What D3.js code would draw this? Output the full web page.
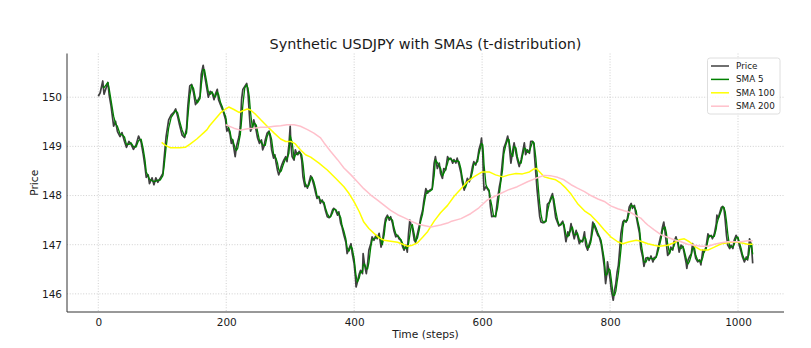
<!DOCTYPE html>
<html>
<head>
<meta charset="utf-8">
<script src="https://cdn.jsdelivr.net/npm/d3@7"></script>
<style>
  html, body { margin: 0; padding: 0; background: #fff; }
  svg { display: block; font-family: "DejaVu Sans", sans-serif; }
</style>
</head>
<body>
<svg id="chart" width="811" height="348"></svg>
<script>
// Synthetic USDJPY price path, [step, price]
const pricePoints = [
  [0,150.02],[3,150.09],[7,150.33],[9,150.06],[15,150.30],[17,150.05],[20,149.82],[24,149.41],[27,149.51],[30,149.30],
  [34,149.20],[37,149.28],[41,149.10],[44,148.98],[48,149.10],[51,149.05],[55,148.94],[59,149.03],[63,149.21],[67,149.08],
  [70,148.86],[73,148.59],[75,148.37],[78,148.42],[80,148.24],[84,148.36],[87,148.22],[90,148.36],[93,148.27],[97,148.36],
  [101,148.45],[103,148.76],[106,149.20],[110,149.54],[114,149.64],[118,149.69],[121,149.76],[124,149.61],[127,149.44],[131,149.23],
  [135,149.18],[138,149.37],[140,149.82],[143,150.23],[146,150.26],[149,150.09],[152,149.85],[155,149.92],[159,150.02],[161,150.47],
  [164,150.65],[166,150.47],[169,150.23],[172,150.00],[175,150.12],[178,150.09],[181,149.95],[183,150.06],[186,150.16],[188,149.95],
  [191,149.85],[194,149.75],[196,149.68],[199,149.54],[200,149.41],[201,149.31],[203,149.37],[206,149.24],[208,149.06],[210,149.13],
  [212,148.96],[214,148.79],[216,149.00],[218,149.10],[220,149.20],[222,149.41],[224,149.95],[226,150.16],[229,150.22],[232,150.28],
  [234,150.09],[236,149.68],[238,149.31],[241,149.41],[243,149.54],[245,149.44],[247,149.31],[249,149.17],[252,149.06],[255,149.13],
  [257,148.93],[259,149.00],[261,149.13],[264,149.27],[267,149.31],[269,149.17],[271,148.93],[274,148.76],[276,148.83],[278,148.66],
  [280,148.52],[282,148.42],[284,148.49],[286,148.59],[288,148.66],[290,148.72],[293,148.79],[295,148.69],[298,149.03],[300,149.41],
  [301,149.06],[303,148.79],[306,148.72],[308,148.93],[310,148.86],[312,148.83],[314,148.90],[316,148.86],[318,148.72],[320,148.38],
  [323,148.18],[325,148.21],[327,148.15],[329,148.25],[332,148.40],[334,148.35],[337,148.21],[340,148.04],[342,147.94],[345,147.98],
  [347,147.84],[350,147.91],[353,147.81],[355,147.70],[358,147.57],[361,147.55],[363,147.58],[366,147.70],[368,147.74],[371,147.70],
  [374,147.60],[376,147.67],[379,147.43],[381,147.36],[384,147.19],[387,147.05],[389,146.82],[392,146.92],[395,147.02],[397,146.82],
  [400,146.61],[402,146.34],[403,146.14],[405,146.24],[408,146.41],[410,146.48],[413,146.41],[414,146.82],[416,146.61],[419,146.41],
  [421,146.61],[423,146.89],[426,147.02],[428,147.16],[431,147.09],[434,147.19],[436,147.12],[439,147.23],[442,146.95],[444,147.05],
  [447,147.36],[449,147.53],[452,147.60],[455,147.50],[457,147.57],[460,147.43],[462,147.29],[465,147.16],[468,147.19],[470,147.12],
  [473,147.09],[476,146.95],[478,146.89],[481,146.99],[483,146.85],[485,147.23],[487,147.50],[489,147.40],[491,147.33],[494,147.09],
  [496,147.05],[499,147.23],[502,147.40],[504,147.55],[507,147.70],[509,147.90],[512,148.14],[515,148.05],[518,148.11],[522,148.14],
  [525,148.66],[527,148.79],[530,148.55],[533,148.66],[535,148.45],[538,148.35],[540,148.55],[543,148.52],[546,148.79],[548,148.73],
  [551,148.76],[554,148.66],[556,148.73],[559,148.66],[561,148.76],[564,148.62],[567,148.45],[569,148.28],[572,148.11],[574,148.21],
  [577,148.35],[580,148.28],[582,148.38],[585,148.59],[587,148.69],[590,148.62],[593,148.76],[595,148.93],[598,149.07],[599,149.17],
  [601,148.86],[602,148.38],[603,148.11],[606,148.18],[608,148.14],[611,148.08],[613,147.77],[615,147.57],[618,147.58],[621,147.57],
  [624,147.91],[627,148.18],[629,148.32],[632,148.73],[634,148.97],[637,149.07],[640,149.21],[642,149.07],[645,148.66],[648,148.93],
  [650,149.07],[653,148.86],[655,148.73],[658,148.59],[661,148.73],[663,148.86],[666,149.07],[668,148.83],[671,148.93],[674,148.86],
  [676,149.10],[679,149.10],[681,149.05],[682,148.79],[684,148.45],[686,148.11],[688,147.84],[690,147.57],[692,147.46],[694,147.45],
  [697,147.45],[700,147.50],[702,147.82],[705,147.86],[707,147.94],[710,148.04],[712,147.84],[715,147.55],[718,147.45],[720,147.38],
  [723,147.42],[726,147.48],[728,147.35],[731,147.06],[734,147.26],[736,147.19],[739,147.43],[741,147.29],[744,147.12],[747,147.29],
  [749,147.19],[752,147.02],[754,147.09],[757,147.06],[760,147.26],[762,146.99],[765,146.89],[767,146.99],[770,147.12],[773,147.46],
  [775,147.40],[778,147.29],[781,147.19],[783,147.16],[786,147.02],[788,146.85],[791,146.55],[793,146.21],[795,146.41],[796,146.65],
  [798,146.48],[800,146.31],[802,146.07],[805,145.87],[807,146.07],[809,146.21],[811,146.44],[813,146.58],[815,146.89],[817,147.23],
  [820,147.46],[822,147.50],[825,147.46],[827,147.53],[830,147.77],[833,147.84],[835,147.74],[838,147.80],[841,147.57],[843,147.43],
  [846,147.23],[848,146.92],[851,146.75],[853,146.56],[856,146.73],[859,146.74],[861,146.68],[864,146.77],[867,146.65],[869,146.74],
  [872,146.75],[874,146.88],[877,147.05],[880,147.22],[882,147.36],[884,147.46],[886,147.26],[888,147.02],[890,146.78],[893,146.85],
  [895,146.95],[898,146.89],[900,147.06],[903,147.16],[906,147.02],[908,146.85],[911,146.99],[914,146.95],[916,146.82],[919,146.62],
  [920,146.52],[922,146.69],[924,146.75],[927,146.82],[929,147.02],[932,146.85],[934,146.72],[937,146.65],[940,146.69],[942,146.59],
  [945,146.89],[947,146.85],[950,146.95],[953,147.22],[955,147.16],[958,147.19],[960,147.12],[963,147.22],[966,147.43],[967,147.60],
  [969,147.53],[971,147.63],[974,147.76],[976,147.78],[978,147.74],[980,147.50],[982,147.19],[984,146.99],[987,146.92],[989,146.99],
  [992,146.92],[994,147.09],[997,147.19],[1000,147.12],[1002,146.99],[1005,146.85],[1007,146.75],[1010,146.65],[1013,146.75],[1015,146.69],
  [1017,146.95],[1018,147.12],[1021,146.99],[1023,146.62]
];

// 100-step simple moving average, [step, value]
const sma100Points = [
  [99,149.08],[105,149.02],[113,148.97],[128,148.97],[136,148.98],[144,149.05],[154,149.15],[160,149.22],[165,149.28],[170,149.34],
  [174,149.42],[180,149.51],[191,149.68],[199,149.76],[204,149.80],[212,149.75],[220,149.69],[225,149.72],[233,149.76],[238,149.74],
  [246,149.65],[254,149.54],[264,149.41],[275,149.27],[285,149.15],[293,149.10],[301,149.10],[308,149.05],[316,148.93],[324,148.83],
  [332,148.78],[345,148.66],[358,148.52],[371,148.35],[384,148.18],[392,148.04],[400,147.87],[408,147.67],[415,147.46],[423,147.33],
  [431,147.23],[439,147.14],[447,147.09],[457,147.07],[468,147.05],[476,147.01],[483,146.97],[491,146.99],[499,147.04],[507,147.15],
  [515,147.27],[525,147.48],[535,147.65],[546,147.80],[556,147.98],[567,148.14],[577,148.28],[587,148.38],[600,148.48],[611,148.48],
  [621,148.42],[632,148.38],[642,148.42],[653,148.45],[663,148.44],[674,148.48],[681,148.54],[685,148.55],[690,148.48],[697,148.38],
  [705,148.35],[715,148.32],[723,148.25],[731,148.15],[739,148.03],[749,147.84],[760,147.69],[770,147.60],[781,147.45],[791,147.30],
  [801,147.16],[812,147.06],[820,147.02],[830,147.06],[841,147.09],[848,147.07],[859,147.02],[869,146.99],[877,146.97],[890,146.99],
  [900,147.04],[908,147.10],[916,147.12],[924,147.06],[934,146.95],[942,146.89],[953,146.89],[963,146.95],[974,147.02],[984,147.04],
  [994,147.06],[1005,147.04],[1015,147.01],[1023,147.01]
];

// 200-step simple moving average, [step, value]
const sma200Points = [
  [199,149.44],[212,149.37],[222,149.33],[233,149.36],[243,149.37],[254,149.39],[264,149.39],[275,149.41],[285,149.42],[295,149.44],
  [306,149.44],[316,149.41],[327,149.34],[337,149.27],[347,149.18],[353,149.07],[363,148.90],[374,148.73],[384,148.56],[395,148.42],
  [405,148.28],[415,148.14],[426,148.01],[436,147.91],[447,147.80],[457,147.70],[468,147.61],[478,147.55],[489,147.48],[499,147.42],
  [509,147.39],[520,147.36],[535,147.40],[546,147.44],[551,147.47],[567,147.53],[582,147.63],[595,147.75],[608,147.91],[624,148.01],
  [640,148.11],[655,148.18],[671,148.28],[684,148.35],[697,148.41],[708,148.40],[718,148.37],[728,148.32],[739,148.22],[749,148.15],
  [760,148.08],[770,148.00],[781,147.93],[791,147.88],[801,147.79],[812,147.73],[822,147.69],[833,147.65],[843,147.57],[848,147.54],
  [854,147.46],[859,147.40],[869,147.30],[880,147.20],[890,147.15],[900,147.10],[911,147.06],[921,147.01],[932,146.99],[942,146.97],
  [953,146.97],[963,147.01],[974,147.04],[984,147.06],[994,147.06],[1005,147.06],[1015,147.08],[1023,147.08]
];

const xTicks = [0, 200, 400, 600, 800, 1000];
const yTicks = [146, 147, 148, 149, 150];
const legendLabels = ["Price", "SMA 5", "SMA 100", "SMA 200"];
const titleText = "Synthetic USDJPY with SMAs (t-distribution)";

// 5-step moving average of the price path
const sma5Points = pricePoints
  .map(([t], i) => {
    const win = [];
    for (let j = i; j >= 0 && pricePoints[j][0] > t - 5; j--) win.push(pricePoints[j][1]);
    return [t, d3.mean(win)];
  })
  .filter(d => d[0] >= 4);

const W = 811, H = 348;
const plot = { left: 67, right: 784, top: 53.5, bottom: 312 };

const svg = d3.select("#chart");
svg.append("rect").attr("width", W).attr("height", H).attr("fill", "#fff");

// x: padded around steps 0..1023
const tExt = d3.extent(pricePoints, d => d[0]);
const tPad = (tExt[1] - tExt[0]) * 0.0478;
const x = d3.scaleLinear().domain([tExt[0] - tPad, tExt[1] + tPad]).range([plot.left, plot.right]);

const vExt = d3.extent(pricePoints, d => d[1]);
const vPad = (vExt[1] - vExt[0]) * 0.05;
const y = d3.scaleLinear().domain([vExt[0] - vPad, vExt[1] + vPad]).range([plot.bottom, plot.top]);

// grid
const grid = svg.append("g").attr("stroke", "#c4c4c4").attr("stroke-width", 0.8)
  .attr("stroke-dasharray", "1,1.7");
grid.selectAll(".gx").data(xTicks).join("line")
  .attr("x1", d => x(d)).attr("x2", d => x(d)).attr("y1", plot.top).attr("y2", plot.bottom);
grid.selectAll(".gy").data(yTicks).join("line")
  .attr("x1", plot.left).attr("x2", plot.right).attr("y1", d => y(d)).attr("y2", d => y(d));

// axes
const xAxis = d3.axisBottom(x).tickValues(xTicks).tickSize(0).tickPadding(7).tickFormat(d3.format("d"));
const yAxis = d3.axisLeft(y).tickValues(yTicks).tickSize(0).tickPadding(5).tickFormat(d3.format("d"));

const gx = svg.append("g").attr("transform", `translate(0,${plot.bottom})`).call(xAxis);
const gy = svg.append("g").attr("transform", `translate(${plot.left},0)`).call(yAxis);
[gx, gy].forEach(g => {
  g.select(".domain").remove();
  g.selectAll("text").attr("font-size", 10.5).attr("fill", "#1a1a1a")
    .attr("font-family", "DejaVu Sans");
});

// spines (left and bottom)
svg.append("line").attr("x1", plot.left).attr("x2", plot.left)
  .attr("y1", plot.top).attr("y2", plot.bottom).attr("stroke", "#333").attr("stroke-width", 1);
svg.append("line").attr("x1", plot.left).attr("x2", plot.right)
  .attr("y1", plot.bottom).attr("y2", plot.bottom).attr("stroke", "#333").attr("stroke-width", 1);

// series
svg.append("clipPath").attr("id", "plotClip").append("rect")
  .attr("x", plot.left).attr("y", plot.top)
  .attr("width", plot.right - plot.left).attr("height", plot.bottom - plot.top);

const line = d3.line().x(d => x(d[0])).y(d => y(d[1]));
const series = [
  { data: pricePoints, color: "#000", opacity: 0.75, width: 1.7 },
  { data: sma5Points, color: "green", opacity: 1, width: 1.3 },
  { data: sma100Points, color: "yellow", opacity: 1, width: 1.5 },
  { data: sma200Points, color: "pink", opacity: 1, width: 1.5 }
];
const gLines = svg.append("g").attr("clip-path", "url(#plotClip)");
series.forEach(s => {
  gLines.append("path").datum(s.data).attr("d", line)
    .attr("fill", "none").attr("stroke", s.color).attr("stroke-opacity", s.opacity)
    .attr("stroke-width", s.width).attr("stroke-linejoin", "round");
});

// title and axis labels
svg.append("text").attr("x", (plot.left + plot.right) / 2).attr("y", 49)
  .attr("text-anchor", "middle").attr("font-size", 14.4).attr("fill", "#1a1a1a").text(titleText);
svg.append("text").attr("x", (plot.left + plot.right) / 2).attr("y", 338)
  .attr("text-anchor", "middle").attr("font-size", 10.7).attr("fill", "#1a1a1a").text("Time (steps)");
svg.append("text").attr("transform", `translate(37.5,${(plot.top + plot.bottom) / 2}) rotate(-90)`)
  .attr("text-anchor", "middle").attr("font-size", 10.7).attr("fill", "#1a1a1a").text("Price");

// legend
const lg = svg.append("g").attr("transform", "translate(707,57.5)");
lg.append("rect").attr("x", 0.5).attr("y", 0.5).attr("width", 72.5).attr("height", 56)
  .attr("rx", 2.5).attr("fill", "#fff").attr("fill-opacity", 0.8)
  .attr("stroke", "#d6d6d6").attr("stroke-width", 0.8);
legendLabels.forEach((label, i) => {
  const s = series[i];
  const cy = 8.5 + i * 13.4;
  lg.append("line").attr("x1", 4).attr("x2", 22).attr("y1", cy).attr("y2", cy)
    .attr("stroke", s.color).attr("stroke-opacity", s.opacity).attr("stroke-width", 1.5);
  lg.append("text").attr("x", 29).attr("y", cy).attr("dy", "0.35em")
    .attr("font-size", 8.8).attr("fill", "#1a1a1a").text(label);
});
</script>
</body>
</html>
